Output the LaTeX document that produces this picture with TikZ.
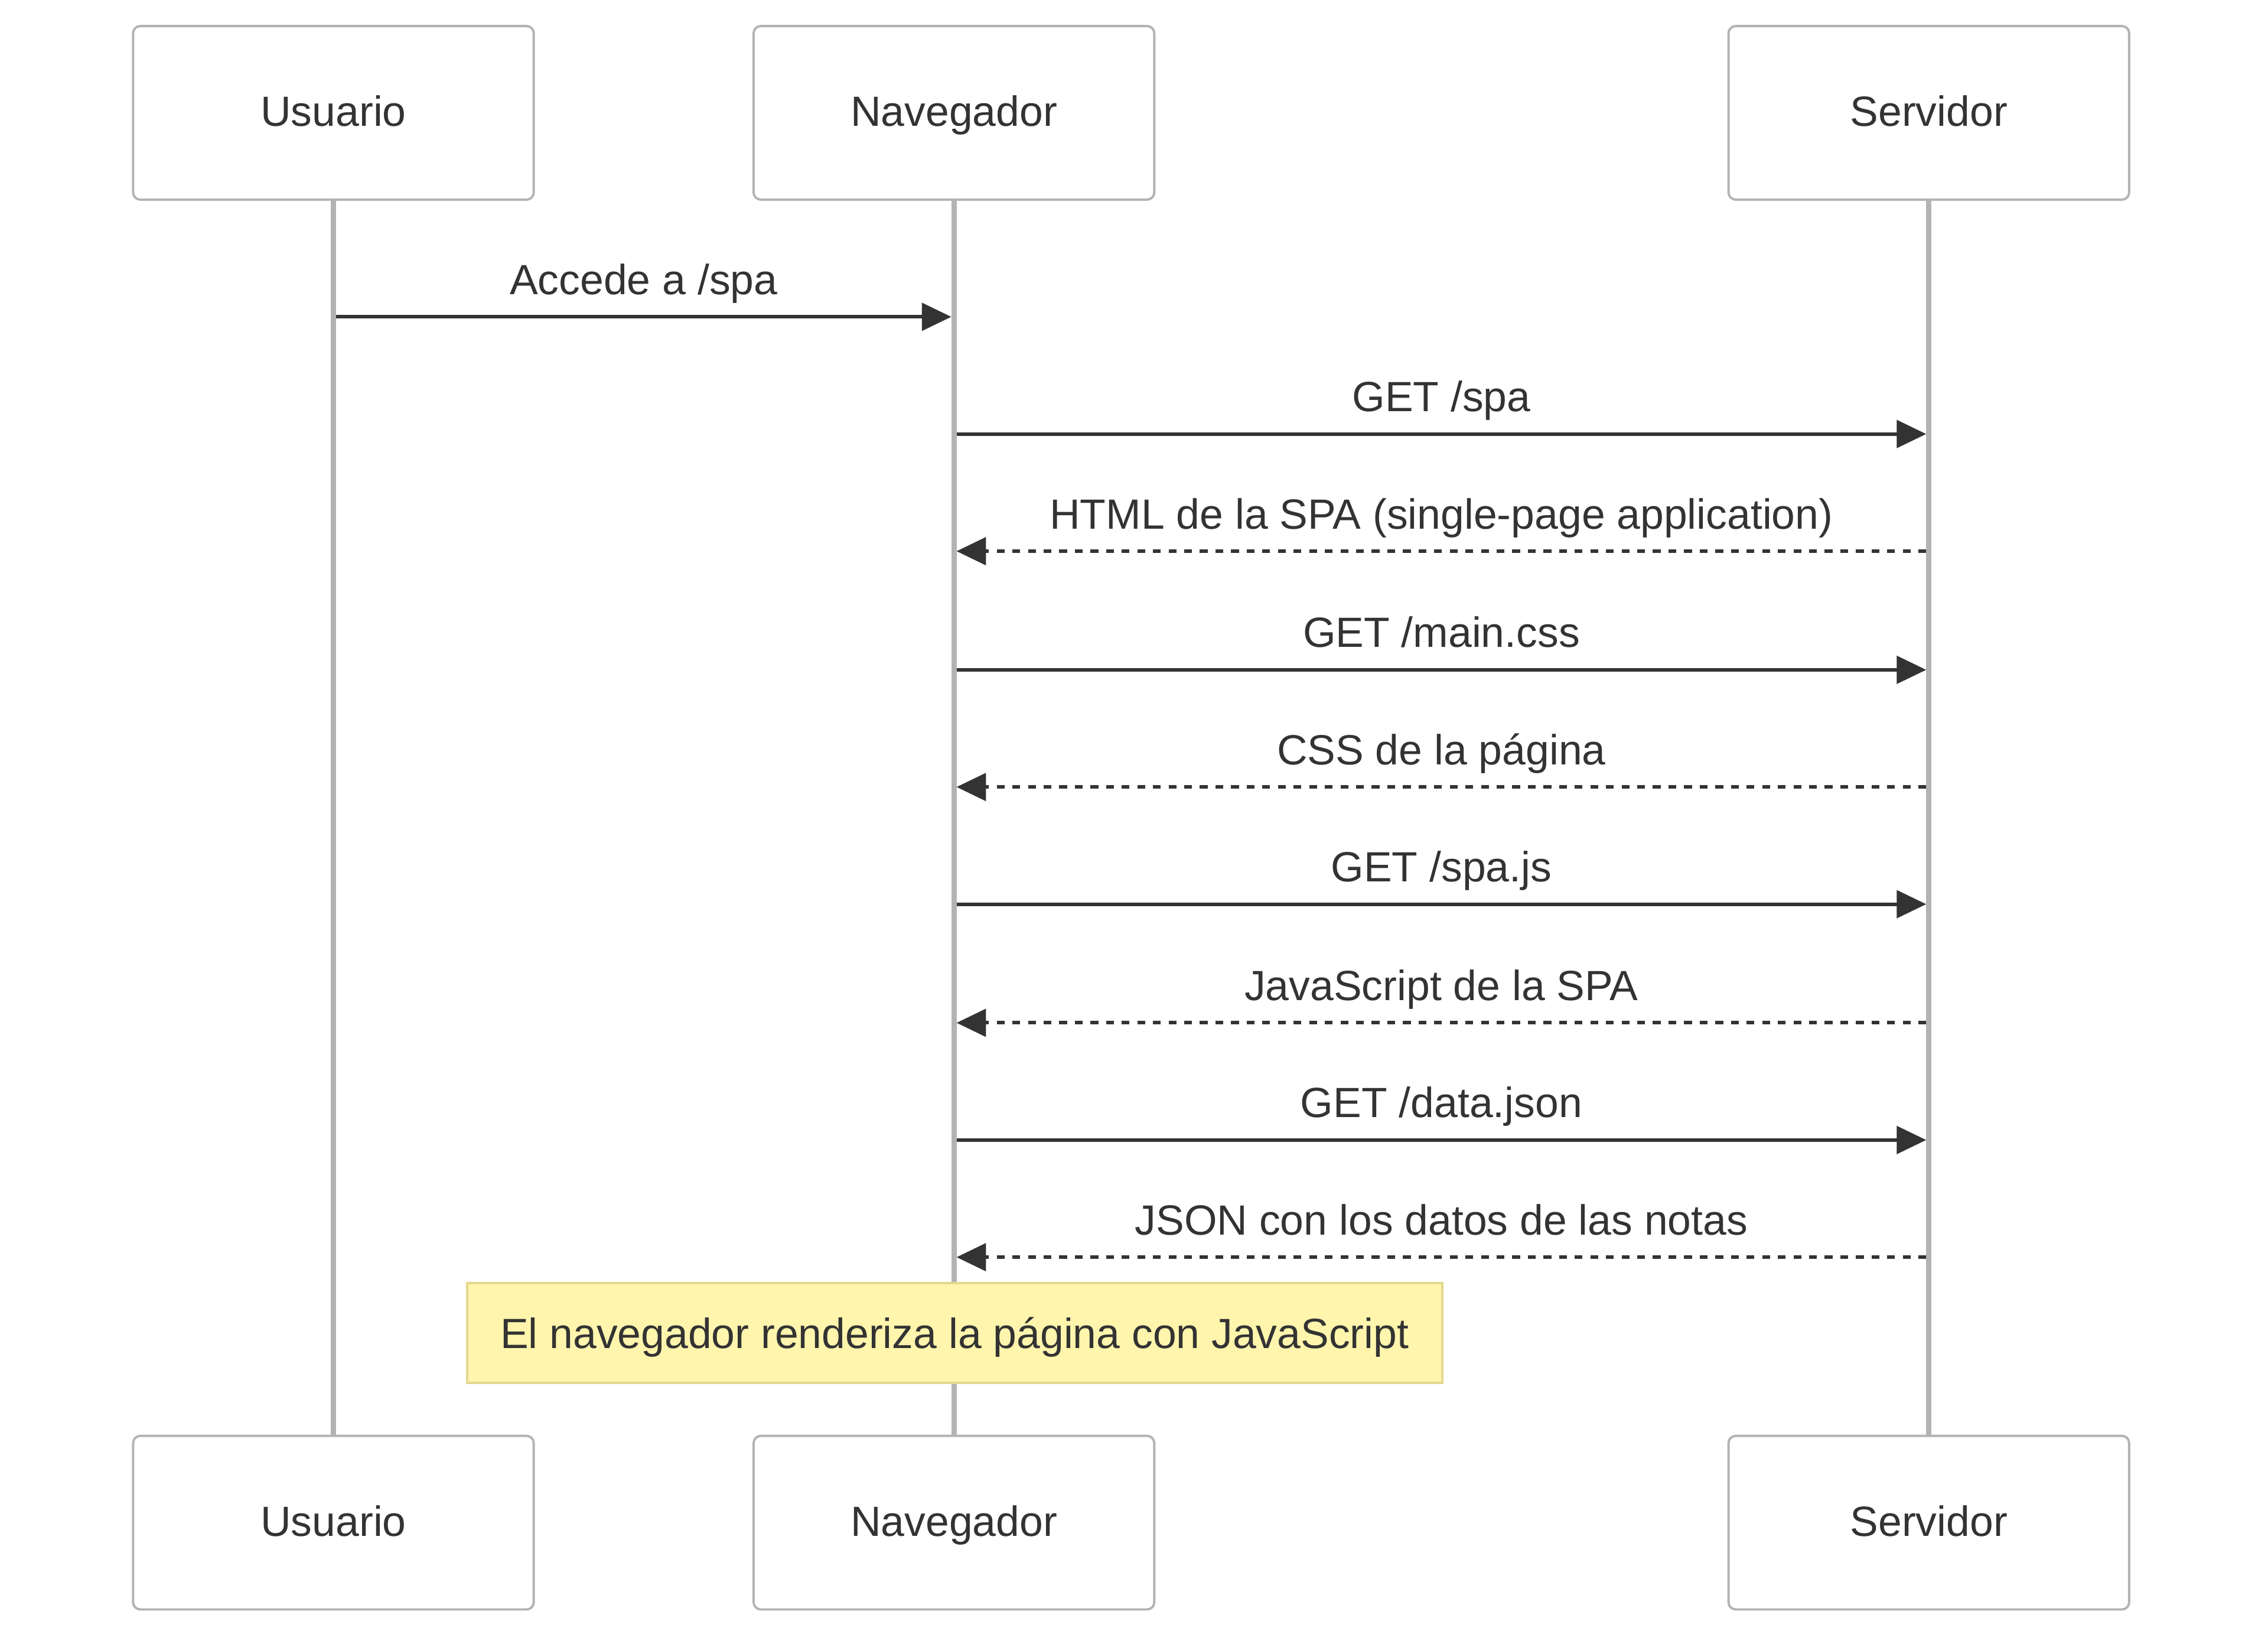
\documentclass[tikz,border=0pt]{standalone}
\usepackage{fontspec}
\setmainfont{Liberation Sans}
\usetikzlibrary{arrows.meta}
\definecolor{ink}{HTML}{333333}
\definecolor{lifegray}{HTML}{B3B3B3}
\definecolor{notefill}{HTML}{FFF5AD}
\definecolor{noteline}{HTML}{E3D98F}

\begin{document}
\begin{tikzpicture}[x=0.5pt, y=-0.5pt,
    every node/.style={font=\fontsize{14.6}{17}\selectfont, text=ink},
    actor/.style={draw=lifegray, line width=0.8pt, fill=white, rounded corners=2.5pt,
      minimum width=138.5pt, minimum height=60pt, text height=0.93em, text depth=0pt},
    life/.style={draw=lifegray, line width=1.85pt},
    msg/.style={draw=ink, line width=1.22pt, -{Triangle[length=10.2pt, width=9.5pt]},
      shorten <=0.9pt, shorten >=0.9pt},
    reply/.style={msg, dash pattern=on 2.7pt off 2.7pt},
    lbl/.style={anchor=base, yshift=7.75pt},
    notebox/.style={draw=noteline, fill=notefill, line width=0.8pt,
      minimum width=337pt, minimum height=34.5pt, text height=1.06em, text depth=0pt}]
  \useasboundingbox (0,0) rectangle (1568,1136);

  % actors, top and bottom
  \node[actor] (usrtop) at (230.5,78)    {Usuario};
  \node[actor] (navtop) at (659.5,78)    {Navegador};
  \node[actor] (srvtop) at (1333.5,78)   {Servidor};
  \node[actor] (usrbot) at (230.5,1052.5)  {Usuario};
  \node[actor] (navbot) at (659.5,1052.5)  {Navegador};
  \node[actor] (srvbot) at (1333.5,1052.5) {Servidor};

  % lifelines
  \draw[life] (usrtop) -- (usrbot);
  \draw[life] (navtop) -- (navbot);
  \draw[life] (srvtop) -- (srvbot);

  % messages
  \draw[msg]   (usrtop |- 0,219) -- (navtop |- 0,219) node[midway, lbl] {Accede a /spa};
  \draw[msg]   (navtop |- 0,300) -- (srvtop |- 0,300) node[midway, lbl] {GET /spa};
  \draw[reply] (srvtop |- 0,381) -- (navtop |- 0,381) node[midway, lbl] {HTML de la SPA (single-page application)};
  \draw[msg]   (navtop |- 0,463) -- (srvtop |- 0,463) node[midway, lbl] {GET /main.css};
  \draw[reply] (srvtop |- 0,544) -- (navtop |- 0,544) node[midway, lbl] {CSS de la página};
  \draw[msg]   (navtop |- 0,625) -- (srvtop |- 0,625) node[midway, lbl] {GET /spa.js};
  \draw[reply] (srvtop |- 0,707) -- (navtop |- 0,707) node[midway, lbl] {JavaScript de la SPA};
  \draw[msg]   (navtop |- 0,788) -- (srvtop |- 0,788) node[midway, lbl] {GET /data.json};
  \draw[reply] (srvtop |- 0,869) -- (navtop |- 0,869) node[midway, lbl] {JSON con los datos de las notas};

  % note over the browser
  \node[notebox] (render) at (660,921.5) {El navegador renderiza la página con JavaScript};
\end{tikzpicture}
\end{document}
